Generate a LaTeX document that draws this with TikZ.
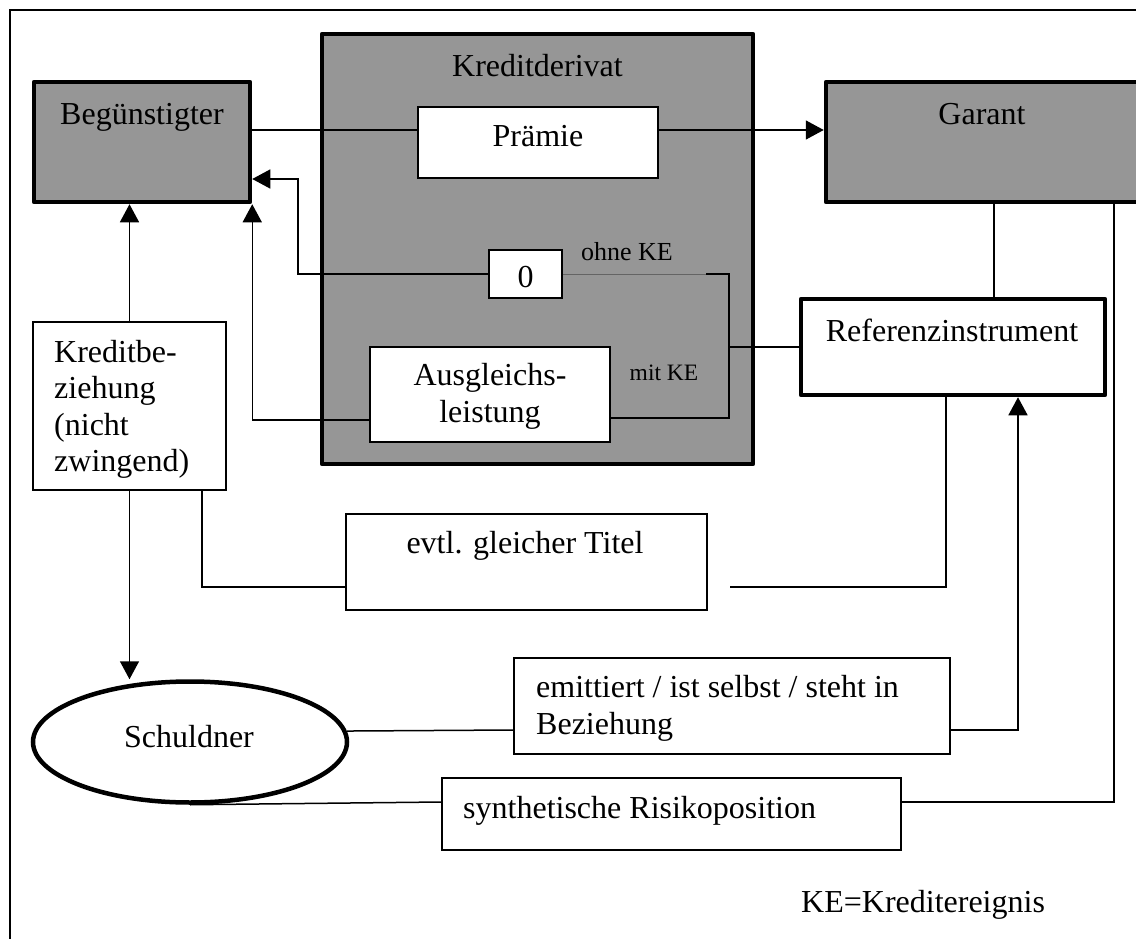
\documentclass[tikz,border=0pt]{standalone}
\usepackage{fontspec}
\setmainfont{Liberation Serif}
\usetikzlibrary{arrows.meta,shapes.geometric}
\definecolor{boxgray}{RGB}{150,150,150}
\definecolor{linegray}{RGB}{100,100,100}
\tikzset{
  heavybox/.style={draw, line width=4.5pt, line join=round, fill=boxgray, inner sep=0pt},
  refbox/.style={draw, line width=4.5pt, line join=round, fill=white, inner sep=0pt},
  plainbox/.style={draw, line width=1.6pt, fill=white, inner sep=0pt},
  ln/.style={line width=1.5pt},
  arr/.style={ln, -{Triangle[length=18pt,width=19pt]}},
  txt/.style={inner sep=0pt, anchor=base, font=\fontsize{32}{36}\selectfont},
  ltxt/.style={txt, anchor=base west},
}
\begin{document}
\begin{tikzpicture}[x=1pt,y=-1pt]
\useasboundingbox (0,0) rectangle (1136,939);
\clip (0,0) rectangle (1136,939);

% outer frame
\draw[line width=1.5pt] (10,10) rectangle (1170,970);

% parties and the derivative
\node[heavybox, minimum width=216pt, minimum height=120pt] (beg) at (142,142) {};
\node[heavybox, minimum width=431pt, minimum height=430pt] (krd) at (537.5,249) {};
\node[heavybox, minimum width=474pt, minimum height=120pt] (gar) at (1063,142) {};

% inner boxes
\node[plainbox, minimum width=240pt, minimum height=71pt] (pr) at (538,142.5) {};
\node[plainbox, minimum width=73pt, minimum height=48pt] (zero) at (525.5,274) {};
\node[plainbox, minimum width=240pt, minimum height=95pt] (aus) at (490,394.5) {};

% other boxes
\node[refbox, minimum width=304pt, minimum height=96pt] (ref) at (953,347) {};
\node[plainbox, minimum width=193pt, minimum height=168pt] (kb) at (129.5,406) {};
\node[plainbox, minimum width=361pt, minimum height=96pt] (evtl) at (526.5,562) {};
\node[plainbox, minimum width=436pt, minimum height=96pt] (emit) at (732,706) {};
\node[plainbox, minimum width=459pt, minimum height=72pt] (syn) at (671.5,814) {};
\node[ellipse, draw, line width=4.5pt, fill=white, inner sep=0pt,
      minimum width=314pt, minimum height=121pt] (sch) at (190,742) {};

% bend points
\coordinate (k1) at (298,179);
\coordinate (jg) at (706,274);
\coordinate (jt) at (729,274);
\coordinate (jb) at (729,418);
\coordinate (e1) at (730,587);

% premium flow
\draw[ln] ([yshift=12pt]beg.east) -- ([yshift=12.5pt]pr.west);
\draw[arr] ([yshift=12.5pt]pr.east) -- ([yshift=12pt]gar.west);

% payout branches
\draw[arr] (zero.west) -| (k1) -- ([yshift=-37pt]beg.east);
\draw[arr] ([yshift=-25.5pt]aus.west) -| (beg.south east);
\draw[line width=1pt, linegray] (zero.east) -- (jg);
\draw[ln] (jg) -- (jt) -- (jb) -- (aus.east |- jb);
\draw[ln] (jt |- ref.west) -- (ref.west);

% guarantor and reference instrument
\draw[ln] ([xshift=-69pt]gar.south) -- ([xshift=41pt]ref.north);
\draw[ln] ([xshift=51pt]gar.south) |- ([yshift=12pt]syn.east);

% credit relation and obligor
\draw[arr] (kb.north) -- (kb.north |- beg.south);
\draw[arr] (kb.south) -- (kb.south |- sch.north);
\draw[ln] ([xshift=72.5pt]kb.south) |- ([yshift=-25pt]evtl.west);
\draw[ln] (e1) -| ([xshift=-7pt]ref.south);
\draw[ln] ([yshift=-24pt]emit.west) -- (sch.4.5);
\draw[arr] ([yshift=-24pt]emit.east) -| ([xshift=65pt]ref.south);
\draw[ln] (sch.south) -- ([yshift=12pt]syn.west);

% labels
\node[txt] (tbeg) at (142,125) {Begünstigter};
\node[txt] (tkrd) at (537.5,77) {Kreditderivat};
\node[txt] (tgar) at (982,125) {Garant};
\node[txt] (tpr) at (538,147) {Prämie};
\node[txt] (tzero) at (525.5,287) {0};
\node[txt, font=\fontsize{26}{30}\selectfont] (tohne) at (627,260) {ohne KE};
\node[txt, font=\fontsize{23.5}{28}\selectfont] (tmit) at (664,380) {mit KE};
\node[txt] (taus1) at (490,385) {Ausgleichs-};
\node[txt] (taus2) at (490,422) {leistung};
\node[txt] (tref) at (952,341) {Referenzinstrument};
\node[ltxt] (tkb1) at (54,362) {Kreditbe-};
\node[ltxt] (tkb2) at (54,398.5) {ziehung};
\node[ltxt] (tkb3) at (54,435) {(nicht};
\node[ltxt] (tkb4) at (54,471.5) {zwingend)};
\node[txt] (tevtl) at (525,553) {evtl. gleicher Titel};
\node[txt] (tsch) at (189,747) {Schuldner};
\node[ltxt] (temit1) at (536,697) {emittiert / ist selbst / steht in};
\node[ltxt] (temit2) at (536,734) {Beziehung};
\node[ltxt] (tsyn) at (463,818) {synthetische Risikoposition};
\node[ltxt] (tke) at (801,912) {KE=Kreditereignis};
\end{tikzpicture}
\end{document}
